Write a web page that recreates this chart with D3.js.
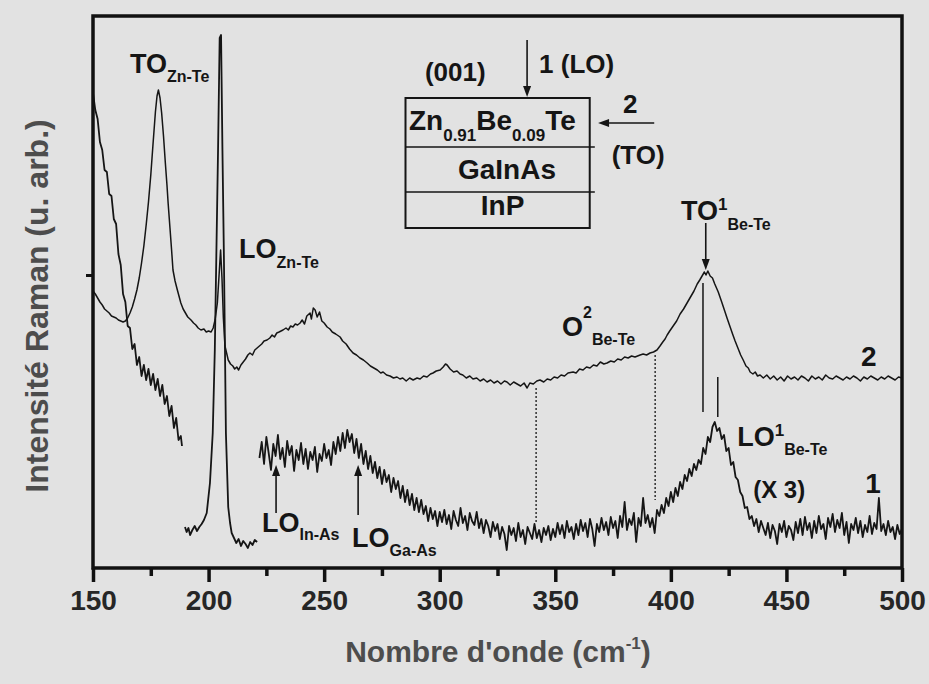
<!DOCTYPE html>
<html><head><meta charset="utf-8">
<script src="https://cdn.jsdelivr.net/npm/d3@7"></script>
<style>
html,body{margin:0;padding:0;background:#e2e2e2;}
svg{display:block;font-family:"Liberation Sans",Arial,Helvetica,sans-serif;font-weight:bold;}
</style></head><body>
<svg id="chart" width="929" height="684"></svg>
<script>
// ---------- DATA ----------
const xTicks = [150, 200, 250, 300, 350, 400, 450, 500];
const xMinorTicks = [175, 225, 275, 325, 375, 425, 475];
const yTicks = [293];

// Spectrum 1 (LO geometry), segment A : [wavenumber, intensity]
const spec1A = [[150,475],[151,458],[152,449],[153,426],[154,418],[155,398],[156,396],[157,374],[158,372],[159,349],
[160,344],[161,314],[162,303],[163,274],[164,266],[165,242],[166,240],[167,219],[168,224],[169,203],
[170,211],[171,192],[172,203],[173,188],[174,199],[175,183],[176,194],[177,178],[178,189],[179,172],
[180,183],[181,164],[182,172],[183,152],[184,162],[185,140],[186,150],[187,128],[188,132],[188.5,122]];

// Spectrum 1, segment B (LO Zn-Te peak)
const spec1B = [[189.8,41],[190.5,36],[191.3,40],[192,33],[193,38],[194,42],[195,37],[196,41],[197,44],[198,48],
[199.2,55],[200.6,85],[201.8,135],[202.7,218],[203.4,318],[204.1,418],[204.8,530],[205.4,533],[206,418],[206.6,318],
[207.1,218],[207.5,135],[208.5,61],[209.3,45],[210,35],[211,30],[212,25],[213,29],[214,22],[215,27],
[216,24],[217,20],[218,26],[219,23],[220,28],[221,26]];

// Spectrum 1, segment C (x3), one value per cm-1 from 222 to 500
const spec1CStart = 222;
const spec1C = [
110,126,104,131,115,98,124,112,133,109,
120,101,127,113,122,97,118,108,125,104,
119,99,116,108,121,96,114,107,124,110,
118,103,126,114,131,117,135,120,138,126,
134,115,129,110,124,104,117,99,112,95,
106,90,101,84,98,86,93,76,90,79,
87,70,82,66,78,63,74,58,70,56,
68,54,62,47,60,49,57,42,56,46,
58,44,53,39,57,48,42,60,45,52,
38,55,47,43,56,40,49,35,48,42,
31,46,37,44,29,41,34,18,42,33,
40,27,45,31,38,24,41,35,29,44,
30,38,26,40,33,42,28,39,31,45,
34,43,30,47,36,41,29,44,33,48,
37,45,31,49,39,22,44,36,50,38,
46,33,51,40,47,30,52,41,66,38,
49,43,55,26,50,42,70,45,53,41,
50,35,58,52,63,55,70,62,76,66,
80,72,86,79,93,87,99,92,104,98,
108,104,120,114,131,126,141,146,137,140,
129,133,117,120,103,106,91,88,76,72,
60,61,49,52,42,49,36,47,40,33,
45,30,43,37,24,44,36,47,31,42,
38,28,46,35,49,33,51,38,45,30,
47,35,52,39,44,29,50,41,54,36,
48,40,55,33,46,25,44,38,50,35,
47,31,43,36,52,34,45,39,70,37,
44,33,47,36,41,29,43,34,39];

// Spectrum 2 (TO geometry)
const spec2 = [[150,277],[151,274],[152,270],[153,266],[154,263],[155,259],[156,257],[157,255],[158,252],[159,251],[160,250],[161,248],[162,247],[163,246],[164,247],[165,250],[166,255],[167,261],[168,269],[169,278],[170,290],[171,305],[172,322],[173,343],[174,366],[175,393],[176,425],[177,456],[177.7,472],[178.3,478],[179,470],[179.7,455],[180.5,432],[181.3,405],[182,383],[182.5,365],[183.3,340],[184,318],[184.6,298],[185.5,287],[186.5,278],[188,265],[189,259],[190,255],[191,251],[192.4,248],[193.5,245],[194.5,243],[195.5,240],[196.7,238],[198,239],[199,236],[200,237],[201.1,236],[202,240],[202.8,248],[203.8,265],[204.6,295],[205.2,318],[205.8,290],[206.4,250],[207.1,222],[207.8,215],[208.5,208],[209.5,204],[210.5,202],[211.3,199],[212.2,201],[213,198],[214,203],[215,206],[216,209],[217,213],[217.9,215],[219,213],[220,218],[221,220],[222,222],[223,224],[224,227],[225.3,228],[226.5,230],[227.5,233],[228.5,231],[229.5,235],[230.5,236],[232.2,238],[233.5,240],[234.5,238],[235.5,242],[236.5,241],[237.5,244],[238.5,243],[239.6,245],[240.5,248],[241.5,244],[242.5,252],[243.9,255],[244.5,249],[245.3,260],[246.1,258],[247,251],[248,256],[249,247],[250,245],[251.3,241],[252.5,239],[253.5,236],[255,234],[256.9,231],[258,227],[259.5,224],[261,219],[262.5,215],[264,213],[265.5,210],[267,208],[268.6,205],[270,202],[271.5,200],[273,198],[274.5,195],[275.5,196],[277,193],[278.5,192],[280,190],[281.5,191],[282.8,189],[284,190],[285.5,187],[287,190],[288.5,188],[290.2,190],[291.5,189],[293,192],[294.5,191],[296,194],[297.1,195],[298.5,197],[300.2,198],[301.5,201],[302.5,204],[303.2,203],[304.5,199],[306,196],[307.5,197],[308.8,194],[310,193],[311.5,190],[313,192],[314.4,189],[316,190],[317.5,187],[319,189],[320.5,186],[322,188],[323.5,185],[325,187],[326.5,184],[328,187],[329.1,186],[330.5,183],[332,186],[333.5,184],[335,182],[336.5,185],[337.8,180],[339,185],[340.5,184],[342,187],[343.4,188],[345,186],[346.5,189],[348,188],[349.5,191],[351,190],[352.5,193],[354,192],[355.5,195],[357.7,196],[359,195],[360.5,199],[362,198],[363.5,201],[365,200],[366.5,203],[368,202],[369.5,206],[371,204],[372.4,205],[374,207],[375.5,206],[377,209],[378.5,208],[380,211],[381.5,210],[383,212],[384.5,211],[386.7,213],[388,214],[389.5,213],[391,215],[392.5,216],[394,218],[395.3,222],[396.5,226],[397.5,229],[398.4,233],[399.5,237],[401,242],[402.5,247],[404,254],[405.5,259],[407,265],[408.5,271],[410,277],[411.4,284],[412.5,288],[413.5,292],[414.5,296],[415.2,293],[416,297],[417,292],[418,290],[419,284],[420.5,276],[422,266],[423.3,257],[424.3,250],[425.5,242],[426.7,234],[427.8,227],[429,220],[430.2,213],[431.3,208],[432.5,202],[433.5,200],[434.3,196],[435.5,194],[436.5,196],[437.5,192],[438.6,193],[440,190],[441.5,193],[443,189],[444.5,192],[446,188],[447.5,191],[449,187],[450.5,192],[452,189],[453.5,191],[455,188],[456.5,192],[458,190],[459.5,187],[461,192],[462.5,189],[464,191],[465.5,188],[467,193],[468.5,190],[470,189],[471.5,192],[473,190],[474.5,188],[476,191],[477.5,189],[479,192],[480.5,190],[482,187],[483.5,191],[485,189],[486.5,192],[488,190],[489.5,188],[491,191],[492.5,189],[494,192],[495.5,190],[497,188],[498.5,191],[500,190]];

// Vertical guide lines [wavenumber, top intensity, bottom intensity]
const dottedGuides = [[341.7,180,45],[393.2,213,68]];
const solidGuides = [[413.9,285,156],[420.3,191,151]];

// Arrows [x1, y1, x2, y2] (head at x2,y2), in data units
const arrows = [[415.1,345,415.1,298],[229.2,55,229.2,103],[264.7,53,264.7,103],[337.8,528,337.8,471],[392.8,445,368.5,445]];

// Peak labels: parts = [text, font size, dy]
const peakLabels = [
 {x:166.0, y:495, parts:[["TO",27,0],["Zn-Te",16,9]]},
 {x:213.2, y:310, parts:[["LO",27,0],["Zn-Te",16,10]]},
 {x:223.1, y:36,  parts:[["LO",27,0],["In-As",16,8]]},
 {x:262.1, y:21,  parts:[["LO",27,0],["Ga-As",16,9]]},
 {x:352.9, y:232, parts:[["O",27,0],["2",16,-18],["Be-Te",16,27]]},
 {x:404.4, y:348, parts:[["TO",27,0],["1",17,-10],["Be-Te",16,20]]},
 {x:428.7, y:122, parts:[["LO",27,0],["1",17,-10],["Be-Te",16,19]]},
 {x:435.6, y:70,  parts:[["(X 3)",24,0]]},
 {x:484.1, y:75,  parts:[["1",28,0]]},
 {x:482.3, y:202, parts:[["2",28,0]]},
 {x:293.6, y:487, parts:[["(001)",26,0]]},
 {x:343.0, y:495, parts:[["1 (LO)",26,0]]},
 {x:286.7, y:438, parts:[["Zn",28,0],["0.91",17,11],["Be",28,-11],["0.09",17,11],["Te",28,-11]]},
 {x:374.4, y:404, parts:[["(TO)",26,0]]}
];
const centeredLabels = [
 {x:329.1, y:389, text:"GaInAs", size:28},
 {x:327.2, y:353, text:"InP", size:28},
 {x:382.4, y:455, text:"2", size:26}
];
// Inset box: [x0, x1, yTop, yBottom], dividers at intensities
const insetBox = [285.2, 364.9, 470, 340];
const insetDividers = [421, 376];
const insetDividerEnd = 367.1;

// ---------- CHART ----------
const svg = d3.select("#chart");
const W = 929, H = 684;
svg.append("rect").attr("width", W).attr("height", H).attr("fill", "#e2e2e2");

const x = d3.scaleLinear().domain([150, 500]).range([93, 902]);
const y = d3.scaleLinear().domain([0, 552]).range([568, 16]);

const line = d3.line().x(d => x(d[0])).y(d => y(d[1]));
const ink = "#151515";

// spectra
const spec1C_pts = spec1C.map((v, i) => [spec1CStart + i, v]);
[spec1A, spec1B, spec1C_pts, spec2].forEach((s, i) => {
  svg.append("path").datum(s).attr("d", line)
    .attr("fill", "none").attr("stroke", ink)
    .attr("stroke-width", i === 3 ? 1.5 : 1.8)
    .attr("stroke-linejoin", "round");
});

// guides
svg.selectAll(".dg").data(dottedGuides).enter().append("line")
  .attr("x1", d => x(d[0])).attr("x2", d => x(d[0]))
  .attr("y1", d => y(d[1])).attr("y2", d => y(d[2]))
  .attr("stroke", ink).attr("stroke-width", 1.3).attr("stroke-dasharray", "2,2");
svg.selectAll(".sg").data(solidGuides).enter().append("line")
  .attr("x1", d => x(d[0])).attr("x2", d => x(d[0]))
  .attr("y1", d => y(d[1])).attr("y2", d => y(d[2]))
  .attr("stroke", ink).attr("stroke-width", 1.5);

// arrows
arrows.forEach(a => {
  const x1 = x(a[0]), y1 = y(a[1]), x2 = x(a[2]), y2 = y(a[3]);
  const ang = Math.atan2(y2 - y1, x2 - x1);
  const L = 11, w = 4;
  const bx = x2 - L * Math.cos(ang), by = y2 - L * Math.sin(ang);
  svg.append("line").attr("x1", x1).attr("y1", y1).attr("x2", bx).attr("y2", by)
    .attr("stroke", ink).attr("stroke-width", 1.6);
  const px = -Math.sin(ang) * w, py = Math.cos(ang) * w;
  svg.append("path")
    .attr("d", `M${x2},${y2}L${bx + px},${by + py}L${bx - px},${by - py}Z`)
    .attr("fill", ink);
});

// inset box
svg.append("rect")
  .attr("x", x(insetBox[0])).attr("y", y(insetBox[2]))
  .attr("width", x(insetBox[1]) - x(insetBox[0]))
  .attr("height", y(insetBox[3]) - y(insetBox[2]))
  .attr("fill", "none").attr("stroke", ink).attr("stroke-width", 2);
insetDividers.forEach(v => {
  svg.append("line").attr("x1", x(insetBox[0])).attr("x2", x(insetDividerEnd))
    .attr("y1", y(v)).attr("y2", y(v)).attr("stroke", ink).attr("stroke-width", 1.6);
});

// labels
peakLabels.forEach(l => {
  const t = svg.append("text").attr("x", x(l.x)).attr("y", y(l.y)).attr("fill", ink);
  l.parts.forEach(p => {
    t.append("tspan").attr("font-size", p[1]).attr("dy", p[2]).text(p[0]);
  });
});
centeredLabels.forEach(l => {
  svg.append("text").attr("x", x(l.x)).attr("y", y(l.y)).attr("text-anchor", "middle")
    .attr("font-size", l.size).attr("fill", ink).text(l.text);
});

// frame
svg.append("rect").attr("x", 93).attr("y", 16).attr("width", 809).attr("height", 552)
  .attr("fill", "none").attr("stroke", "#111").attr("stroke-width", 3.5);

// axes
const xAxis = svg.append("g").attr("transform", "translate(0,568)")
  .call(d3.axisBottom(x).tickValues(xTicks).tickSize(14).tickPadding(8).tickFormat(d3.format("d")));
xAxis.select(".domain").remove();
xAxis.selectAll(".tick line").attr("stroke", "#111").attr("stroke-width", 3.5);
xAxis.selectAll(".tick text").attr("font-size", 28).attr("fill", "#262626")
  .attr("font-family", "'Liberation Sans',Arial,sans-serif").attr("font-weight", "bold");

const xMinor = svg.append("g").attr("transform", "translate(0,568)")
  .call(d3.axisBottom(x).tickValues(xMinorTicks).tickSize(8).tickFormat(""));
xMinor.select(".domain").remove();
xMinor.selectAll(".tick line").attr("stroke", "#111").attr("stroke-width", 3.5);

const yAxis = svg.append("g").attr("transform", "translate(93,0)")
  .call(d3.axisLeft(y).tickValues(yTicks).tickSize(7).tickFormat(""));
yAxis.select(".domain").remove();
yAxis.selectAll(".tick line").attr("stroke", "#111").attr("stroke-width", 3);

// axis titles
const xt = svg.append("text").attr("x", 498).attr("y", 662).attr("text-anchor", "middle")
  .attr("font-size", 30).attr("fill", "#4d4d4d");
xt.append("tspan").text("Nombre d'onde (cm");
xt.append("tspan").attr("font-size", 17).attr("dy", -13).text("-1");
xt.append("tspan").attr("dy", 13).text(")");

svg.append("text").attr("transform", "translate(48,306) rotate(-90)")
  .attr("text-anchor", "middle").attr("font-size", 32).attr("fill", "#4d4d4d")
  .text("Intensité Raman (u. arb.)");
</script>
</body></html>
